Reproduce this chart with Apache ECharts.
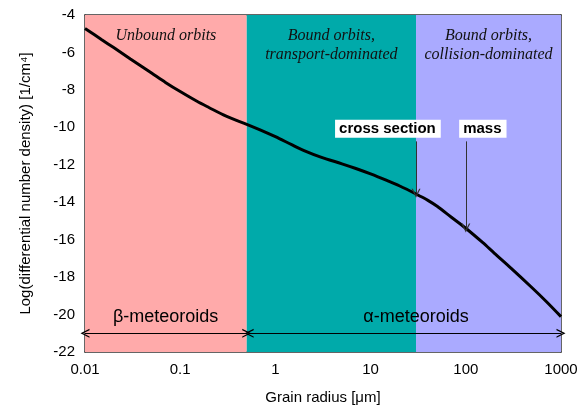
<!DOCTYPE html>
<html>
<head>
<meta charset="utf-8">
<script src="https://cdn.jsdelivr.net/npm/echarts@6/dist/echarts.min.js"></script>
<style>html,body{margin:0;padding:0;background:#fff}#c{width:583px;height:410px}</style>
</head>
<body>
<div id="c"></div>
<script>
// ---- data ----
var radius = [0.01, 0.015, 0.02, 0.03, 0.05, 0.07, 0.1, 0.15, 0.2, 0.3, 0.5, 0.7, 1, 1.5, 2, 3, 5, 7, 10, 15, 20, 30, 40, 50, 70, 100, 150, 200, 300, 500, 700, 1000];
var logDensity = [-4.72, -5.32, -5.74, -6.35, -7.10, -7.60, -8.09, -8.61, -8.94, -9.39, -9.84, -10.15, -10.50, -10.94, -11.24, -11.59, -11.95, -12.20, -12.49, -12.85, -13.12, -13.56, -13.90, -14.22, -14.79, -15.39, -16.15, -16.73, -17.53, -18.58, -19.30, -20.11];
var xTickLabels = ['0.01', '0.1', '1', '10', '100', '1000'];
var regionBounds = [0.01, 0.5, 30, 1000];
var regionNames = ['Unbound orbits', 'Bound orbits,\ntransport-dominated', 'Bound orbits,\ncollision-dominated'];
var regionColors = ['#FFAAAA', '#00AAAA', '#AAAAFF'];
var populations = ['\u03B2-meteoroids', '\u03B1-meteoroids'];
var populationRanges = [[0.01, 0.5], [0.53, 1000]];
var populationLabelX = [0.0702, 30];
var populationY = -21;
var populationLabelY = -20.12;
var annotations = ['cross section', 'mass'];
var annotationLabelX = [15.2, 151];
var annotationLabelY = -10.08;
var annotationArrowX = [30, 100];
var annotationArrowFromY = -10.75;
var annotationArrowToY = [-13.52, -15.38];

// ---- chart ----
var chart = echarts.init(document.getElementById('c'), null, {renderer: 'canvas'});
var chevron = 'path://M0,10 L5,0 L10,10 L8.5,10 L5,3 L1.5,10 Z';
var font = 'Liberation Sans, Arial, sans-serif';

var areas = [];
for (var i = 0; i < 3; i++) {
  areas.push([
    {xAxis: regionBounds[i], yAxis: -22, itemStyle: {color: regionColors[i], opacity: 1},
     label: {show: true, position: 'insideTop', distance: 11, formatter: regionNames[i],
             fontFamily: 'Liberation Serif, Times New Roman, serif', fontStyle: 'italic',
             fontSize: 16, lineHeight: 19, color: '#111', align: 'center'}},
    {xAxis: regionBounds[i + 1], yAxis: -4}
  ]);
}

var lines = [];
for (var j = 0; j < 2; j++) {
  lines.push([
    {coord: [populationRanges[j][0], populationY]},
    {coord: [populationRanges[j][1], populationY]}
  ]);
}
var arrowLines = [];
for (var k = 0; k < 2; k++) {
  arrowLines.push([
    {coord: [annotationArrowX[k], annotationArrowFromY]},
    {coord: [annotationArrowX[k], annotationArrowToY[k]]}
  ]);
}

var points = [];
for (var p = 0; p < 2; p++) {
  points.push({coord: [populationLabelX[p], populationLabelY], symbolSize: 0,
    label: {show: true, formatter: populations[p], position: 'inside', fontSize: 18, color: '#000', fontFamily: font}});
}
for (var q = 0; q < 2; q++) {
  points.push({coord: [annotationLabelX[q], annotationLabelY], symbolSize: 0,
    label: {show: true, formatter: annotations[q], position: 'inside', fontSize: 15, fontWeight: 'bold',
            color: '#000', fontFamily: font, backgroundColor: '#fff', padding: [2, 5, 1, 4]}});
}

var option = {
  animation: false,
  grid: {left: 85, right: 22, top: 15, bottom: 58},
  xAxis: [{
    type: 'log', logBase: 10, min: 0.01, max: 1000,
    name: 'Grain radius [\u03BCm]', nameLocation: 'middle', nameGap: 38,
    nameTextStyle: {fontSize: 15, color: '#000', fontFamily: font},
    axisLine: {show: true, onZero: false, lineStyle: {color: '#333', width: 1.5}},
    axisTick: {show: false}, splitLine: {show: false},
    axisLabel: {fontSize: 15, color: '#000', fontFamily: font, margin: 10,
      formatter: function (v) { var idx = Math.round(Math.log10(v)) + 2; return xTickLabels[idx] || ''; }}
  }, {
    type: 'log', logBase: 10, min: 0.01, max: 1000, position: 'top',
    axisLine: {show: true, onZero: false, lineStyle: {color: '#333', width: 1.5}},
    axisTick: {show: false}, axisLabel: {show: false}, splitLine: {show: false}
  }],
  yAxis: [{
    type: 'value', min: -22, max: -4, interval: 2,
    name: 'Log(differential number density) [1/cm\u2074]', nameLocation: 'middle', nameGap: 52,
    nameTextStyle: {fontSize: 15, color: '#000', fontFamily: font},
    axisLine: {show: true, onZero: false, lineStyle: {color: '#333', width: 1.5}},
    axisTick: {show: false}, splitLine: {show: false},
    axisLabel: {fontSize: 15, color: '#000', fontFamily: font, margin: 10}
  }, {
    type: 'value', min: -22, max: -4, interval: 2, position: 'right',
    axisLine: {show: true, onZero: false, lineStyle: {color: '#333', width: 1.5}},
    axisTick: {show: false}, axisLabel: {show: false}, splitLine: {show: false}
  }],
  series: [{
    type: 'line', data: [], z: 1, silent: true,
    markArea: {silent: true, data: areas}
  }, {
    type: 'line', data: [], z: 4, silent: true,
    markLine: {silent: true, symbol: [chevron, chevron], symbolSize: [9, 9],
      lineStyle: {color: '#000', width: 1, type: 'solid'}, label: {show: false}, data: lines},
    markPoint: {silent: true, symbol: 'circle', data: points}
  }, {
    type: 'line', data: [], z: 4, silent: true,
    markLine: {silent: true, symbol: ['none', chevron], symbolSize: [9, 9],
      lineStyle: {color: '#333', width: 1, type: 'solid'}, label: {show: false}, data: arrowLines}
  }, {
    type: 'line', z: 3, smooth: 0.3, symbol: 'none', silent: true,
    lineStyle: {color: '#000', width: 3},
    data: radius.map(function (r, i) { return [r, logDensity[i]]; })
  }]
};
chart.setOption(option);
</script>
</body>
</html>
